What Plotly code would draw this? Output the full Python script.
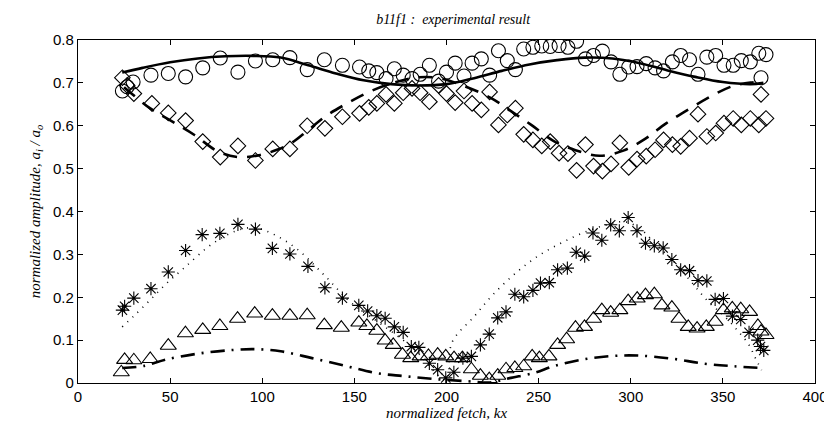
import plotly.graph_objects as go

# ---- experimental data: circles ----
circ_x = [24.1, 26.7, 29.9, 39.6, 49.0, 58.4, 67.7, 77.2, 86.8, 96.3, 105.7, 115.0, 124.4, 133.7,
          143.5, 152.8, 157.8, 162.2, 167.2, 171.7, 176.5, 181.3, 185.7, 190.7, 195.7, 200.0, 204.7,
          209.5, 213.9, 218.9, 223.4, 228.2, 233.0, 237.4, 241.9, 246.9, 251.7, 256.3, 261.1, 265.9,
          270.6, 275.4, 279.8, 284.6, 289.3, 294.1, 298.9, 303.4, 308.4, 313.2, 317.8, 322.6, 327.1,
          331.9, 336.5, 341.3, 346.1, 350.6, 355.6, 360.0, 364.9, 369.5, 373.4, 370.7]
circ_y = [0.681, 0.691, 0.702, 0.718, 0.722, 0.714, 0.735, 0.758, 0.725, 0.751, 0.754, 0.759, 0.731, 0.754,
          0.741, 0.737, 0.728, 0.724, 0.710, 0.733, 0.718, 0.710, 0.720, 0.741, 0.704, 0.725, 0.746,
          0.716, 0.746, 0.756, 0.718, 0.775, 0.752, 0.731, 0.779, 0.783, 0.786, 0.785, 0.787, 0.783,
          0.797, 0.756, 0.764, 0.774, 0.749, 0.720, 0.737, 0.738, 0.745, 0.735, 0.728, 0.749, 0.764,
          0.754, 0.720, 0.760, 0.764, 0.741, 0.741, 0.752, 0.749, 0.769, 0.766, 0.712]

# ---- experimental data: diamonds ----
diam_x = [24.1, 26.7, 30.3, 40.1, 49.0, 58.4, 67.7, 77.2, 86.8, 96.3, 105.7, 115.0, 124.4, 134.0,
          143.5, 152.8, 157.8, 162.2, 167.2, 171.7, 176.5, 181.3, 185.7, 190.7, 195.7, 200.0, 204.7,
          209.5, 213.9, 218.9, 223.4, 228.2, 233.0, 237.4, 241.9, 246.9, 251.7, 256.3, 261.1, 265.9,
          270.6, 275.4, 279.8, 284.6, 289.3, 294.1, 298.9, 303.4, 308.4, 313.2, 317.8, 322.6, 327.1,
          331.9, 336.5, 341.3, 346.1, 350.6, 355.6, 360.0, 364.9, 369.5, 373.4, 370.7]
diam_y = [0.712, 0.694, 0.675, 0.652, 0.630, 0.612, 0.563, 0.527, 0.553, 0.519, 0.546, 0.546, 0.600, 0.594,
          0.621, 0.629, 0.643, 0.652, 0.673, 0.652, 0.677, 0.687, 0.677, 0.656, 0.694, 0.675, 0.654,
          0.681, 0.652, 0.637, 0.679, 0.602, 0.625, 0.641, 0.580, 0.567, 0.553, 0.563, 0.536, 0.535,
          0.496, 0.556, 0.506, 0.494, 0.511, 0.560, 0.503, 0.522, 0.529, 0.544, 0.567, 0.556, 0.552,
          0.571, 0.627, 0.575, 0.583, 0.606, 0.617, 0.602, 0.617, 0.602, 0.617, 0.673]

# ---- experimental data: asterisks ----
star_x = [24.1, 25.3, 30.3, 39.6, 49.0, 58.4, 67.4, 77.0, 86.8, 96.3, 105.5, 115.0, 124.8, 134.0,
          143.5, 152.4, 157.2, 162.2, 166.7, 171.7, 176.5, 180.9, 185.0, 190.7, 195.2, 199.6, 204.0,
          208.9, 213.5, 218.4, 223.2, 227.8, 232.3, 237.1, 241.9, 246.9, 251.0, 255.8, 260.3, 265.6,
          270.4, 275.0, 279.5, 284.3, 289.1, 293.8, 298.6, 303.4, 308.0, 312.8, 317.6, 322.3, 327.1,
          331.9, 336.5, 341.3, 345.8, 350.3, 355.2, 359.7, 364.2, 368.9, 370.4, 372.2]
star_y = [0.170, 0.179, 0.198, 0.220, 0.259, 0.309, 0.346, 0.349, 0.370, 0.359, 0.314, 0.301, 0.272, 0.222,
          0.198, 0.181, 0.168, 0.157, 0.151, 0.131, 0.118, 0.085, 0.083, 0.046, 0.031, 0.012, 0.025,
          0.058, 0.062, 0.089, 0.114, 0.152, 0.166, 0.207, 0.201, 0.216, 0.233, 0.234, 0.264, 0.268,
          0.305, 0.296, 0.350, 0.333, 0.369, 0.355, 0.386, 0.355, 0.326, 0.320, 0.315, 0.288, 0.264,
          0.262, 0.239, 0.238, 0.195, 0.197, 0.156, 0.148, 0.118, 0.100, 0.085, 0.076]

# ---- experimental data: triangles ----
tri_x = [23.5, 25.3, 30.3, 39.2, 49.0, 58.3, 67.7, 77.0, 86.6, 95.9, 105.5, 115.0, 124.4, 133.7,
         142.9, 152.4, 156.8, 162.2, 166.7, 171.1, 176.1, 180.6, 185.7, 190.2, 195.2, 199.6, 204.1,
         208.6, 213.5, 218.4, 223.2, 227.8, 232.3, 237.1, 241.9, 246.5, 250.4, 255.6, 260.3, 265.2,
         270.0, 274.9, 279.8, 284.3, 289.1, 294.1, 298.6, 303.5, 308.0, 312.8, 316.9, 322.3, 326.2,
         331.2, 336.0, 341.0, 345.8, 350.3, 355.1, 359.7, 364.5, 369.0, 370.7, 373.4]
tri_y = [0.025, 0.054, 0.053, 0.056, 0.087, 0.116, 0.124, 0.133, 0.150, 0.162, 0.157, 0.157, 0.158, 0.135,
         0.129, 0.141, 0.133, 0.122, 0.099, 0.089, 0.066, 0.058, 0.062, 0.063, 0.066, 0.062, 0.058,
         0.058, 0.032, 0.017, 0.009, 0.017, 0.032, 0.035, 0.039, 0.062, 0.058, 0.062, 0.089, 0.102,
         0.129, 0.131, 0.150, 0.170, 0.164, 0.170, 0.191, 0.197, 0.205, 0.207, 0.181, 0.176, 0.150,
         0.131, 0.127, 0.131, 0.143, 0.170, 0.174, 0.172, 0.166, 0.133, 0.120, 0.112]

# ---- theory curves ----
solid_x = [24, 35, 50, 65, 80, 95, 110, 125, 140, 155, 170, 185, 200, 215, 230, 245, 260, 275,
           290, 305, 320, 335, 350, 365, 372]
solid_y = [0.724, 0.735, 0.748, 0.757, 0.762, 0.763, 0.759, 0.741, 0.722, 0.706, 0.697, 0.694, 0.697,
           0.711, 0.728, 0.743, 0.753, 0.759, 0.757, 0.746, 0.729, 0.714, 0.702, 0.697, 0.700]

dash_x = [25, 39, 51, 63, 76, 87, 99, 108, 116, 125, 135, 146, 158, 172, 185, 196, 210, 224, 235,
          246, 258, 270, 283, 296, 308, 319, 332, 344, 355, 365, 372]
dash_y = [0.690, 0.641, 0.610, 0.579, 0.540, 0.527, 0.532, 0.544, 0.560, 0.590, 0.624, 0.652, 0.679,
          0.701, 0.713, 0.711, 0.692, 0.665, 0.634, 0.602, 0.565, 0.543, 0.530, 0.542, 0.570, 0.605,
          0.640, 0.670, 0.692, 0.701, 0.702]

dot_x = [24, 30, 39, 48, 58, 73, 86, 96, 107, 119, 134, 148, 164, 182, 199.6, 203, 215, 225, 238,
         250, 262, 274, 287, 297, 305, 314, 323, 333, 342, 351, 358, 364, 368, 371]
dot_y = [0.131, 0.155, 0.193, 0.232, 0.270, 0.325, 0.355, 0.362, 0.345, 0.312, 0.250, 0.188, 0.139,
         0.081, 0.008, 0.095, 0.155, 0.205, 0.258, 0.297, 0.326, 0.350, 0.369, 0.376, 0.360, 0.322,
         0.285, 0.235, 0.190, 0.155, 0.122, 0.090, 0.055, 0.030]

dashdot_x = [24, 36, 48, 66, 84, 96, 110, 127, 146, 162, 177, 194, 212, 223, 235, 248, 258, 274,
             290, 304, 322, 340, 356, 371]
dashdot_y = [0.035, 0.040, 0.055, 0.069, 0.077, 0.079, 0.074, 0.058, 0.039, 0.023, 0.016, 0.009,
             0.004, 0.001, 0.012, 0.024, 0.039, 0.055, 0.063, 0.064, 0.057, 0.045, 0.039, 0.035]

x_ticks = [0, 50, 100, 150, 200, 250, 300, 350, 400]
y_ticks = [0, 0.1, 0.2, 0.3, 0.4, 0.5, 0.6, 0.7, 0.8]
y_tick_text = ["0", "0.1", "0.2", "0.3", "0.4", "0.5", "0.6", "0.7", "0.8"]

fig = go.Figure()

def line(x, y, dash, width):
    fig.add_trace(go.Scatter(x=x, y=y, mode="lines", line=dict(color="black", width=width,
                                                               dash=dash, shape="spline"),
                             hoverinfo="skip"))

def marks(x, y, symbol, size, lw=1.1):
    fig.add_trace(go.Scatter(x=x, y=y, mode="markers",
                             marker=dict(symbol=symbol, size=size, color="black",
                                         line=dict(width=lw, color="black"))))

line(solid_x, solid_y, "solid", 2.6)
line(dash_x, dash_y, "14px,10px", 2.6)
line(dot_x, dot_y, "1px,6px", 1.6)
line(dashdot_x, dashdot_y, "14px,7px,2px,7px", 2.6)

marks(circ_x, circ_y, "circle-open", 14)
marks(diam_x, diam_y, "diamond-open", 12)
marks(star_x, star_y, "asterisk-open", 11)
marks(tri_x, tri_y, "triangle-up-open", 14)

axis_common = dict(showline=True, linecolor="black", linewidth=1.3, mirror="ticks",
                   ticks="inside", ticklen=5, tickwidth=1, tickcolor="black",
                   showgrid=False, zeroline=False,
                   tickfont=dict(family="Liberation Sans, Arial, sans-serif", size=15, color="black"))

serif = "Liberation Serif, Times New Roman, serif"

fig.update_layout(
    width=832, height=423,
    margin=dict(l=70, r=15, t=32, b=46),
    paper_bgcolor="white", plot_bgcolor="white",
    showlegend=False,
    title=dict(text="<i>b11f1 :  experimental result</i>", x=0.535, xanchor="center", y=0.985, yanchor="top",
               font=dict(family=serif, size=14, color="black")),
    xaxis=dict(range=[0, 400], tickvals=x_ticks, ticktext=[str(t) for t in x_ticks],
               title=dict(text="<i>normalized fetch, kx</i>", standoff=3,
                          font=dict(family=serif, size=15, color="black")),
               **axis_common),
    yaxis=dict(range=[0, 0.8], tickvals=y_ticks, ticktext=y_tick_text,
               title=dict(text="<i>normalized amplitude, a<sub>i</sub> / a<sub>o</sub></i>", standoff=8,
                          font=dict(family=serif, size=15, color="black")),
               **axis_common),
)

fig.write_html("out.html")
